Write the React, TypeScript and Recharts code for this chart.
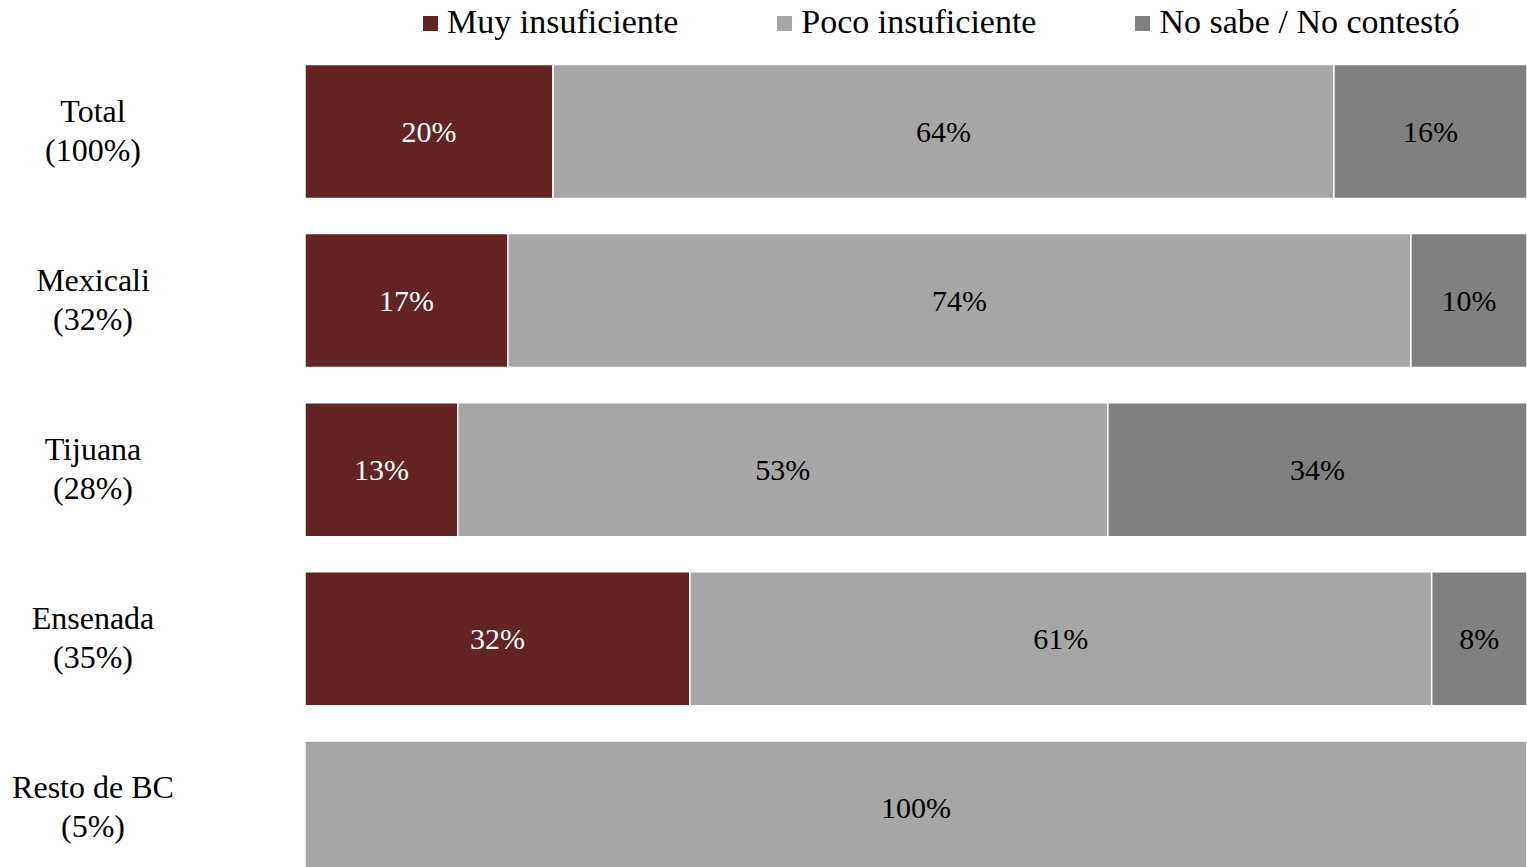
import { BarChart, Bar, XAxis, YAxis, Legend, LabelList } from 'recharts';

const categories = ['Total', 'Mexicali', 'Tijuana', 'Ensenada', 'Resto de BC'];
const shares = ['(100%)', '(32%)', '(28%)', '(35%)', '(5%)'];
const muyInsuficiente = [20.3, 16.6, 12.5, 31.5, 0];
const pocoInsuficiente = [63.9, 73.9, 53.2, 60.7, 100];
const noSabe = [15.8, 9.5, 34.3, 7.8, 0];

const series = [
  { key: 'muy', name: 'Muy insuficiente', color: '#632423', text: '#ffffff' },
  { key: 'poco', name: 'Poco insuficiente', color: '#a6a6a6', text: '#000000' },
  { key: 'nose', name: 'No sabe / No contestó', color: '#808080', text: '#000000' },
];

const data = categories.map((name, i) => ({
  name,
  share: shares[i],
  muy: muyInsuficiente[i],
  poco: pocoInsuficiente[i],
  nose: noSabe[i],
}));

const FONT = '"Liberation Serif", serif';

const CategoryTick = ({ y, payload }: any) => {
  const idx = categories.indexOf(payload.value);
  return (
    <text x={93} y={y} textAnchor="middle" fontFamily={FONT} fontSize={32} fill="#000">
      <tspan x={93} dy={-9}>{payload.value}</tspan>
      <tspan x={93} dy={39}>{shares[idx]}</tspan>
    </text>
  );
};

const makeLabel = (color: string) => (props: any) => {
  const { x, y, width, height, value } = props;
  if (!value) return null;
  return (
    <text
      x={x + width / 2}
      y={y + height / 2}
      textAnchor="middle"
      dominantBaseline="central"
      fontFamily={FONT}
      fontSize={30}
      fill={color}
    >
      {`${Math.round(value)}%`}
    </text>
  );
};

const LegendContent = () => (
  <div style={{ display: 'flex', gap: 99, fontFamily: FONT, fontSize: 34, lineHeight: '44px', whiteSpace: 'nowrap' }}>
    {series.map(s => (
      <div key={s.key} style={{ display: 'flex', alignItems: 'center' }}>
        <span style={{ width: 15, height: 15, background: s.color, marginRight: 9, marginTop: 2 }} />
        <span>{s.name}</span>
      </div>
    ))}
  </div>
);

export default function App() {
  return (
    <div style={{ position: 'absolute', left: 0, top: 0 }}>
      <BarChart
        width={1527}
        height={892}
        data={data}
        layout="vertical"
        margin={{ top: 46.5, right: 0, bottom: 0, left: 0 }}
        barSize={134}
      >
        <XAxis type="number" domain={[0, 100]} hide />
        <YAxis
          type="category"
          dataKey="name"
          width={305}
          axisLine={false}
          tickLine={false}
          tick={<CategoryTick />}
        />
        <Legend
          verticalAlign="top"
          align="left"
          content={<LegendContent />}
          wrapperStyle={{ top: 0, left: 423, width: 'auto', height: 0, overflow: 'visible' }}
        />
        {series.map(s => (
          <Bar
            key={s.key}
            dataKey={s.key}
            name={s.name}
            stackId="a"
            fill={s.color}
            stroke="#ffffff"
            strokeWidth={1.5}
            isAnimationActive={false}
          >
            <LabelList dataKey={s.key} content={makeLabel(s.text)} />
          </Bar>
        ))}
      </BarChart>
    </div>
  );
}
